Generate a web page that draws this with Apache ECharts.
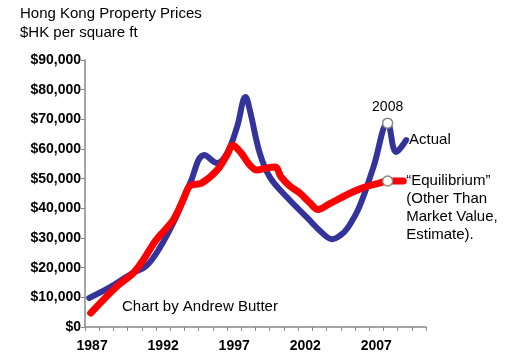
<!DOCTYPE html>
<html>
<head>
<meta charset="utf-8">
<script src="https://cdn.jsdelivr.net/npm/echarts@6/dist/echarts.min.js"></script>
<style>html,body{margin:0;padding:0;background:#fff}#c{width:528px;height:363px}</style>
</head>
<body>
<div id="c"></div>
<script>
// Tick labels / categories
var yearCategories = ['1987','1988','1989','1990','1991','1992','1993','1994','1995','1996','1997','1998','1999','2000','2001','2002','2003','2004','2005','2006','2007','2008','2009','2010'];

// Actual prices (year, $HK per sq ft)
var actualYears  = [1986.8, 1988.3, 1989.85, 1990.8, 1991.8, 1992.9, 1993.9, 1994.9, 1995.8, 1996.5, 1997.2, 1997.8, 1998.1, 1998.8, 1999.5, 2000.7, 2002.1, 2003.2, 2003.9, 2004.5, 2005.0, 2005.8, 2006.8, 2007.8, 2008.4, 2009.1];
var actualValues = [9800, 13500, 18200, 20500, 27000, 37000, 48500, 58000, 55300, 58600, 67400, 77500, 73100, 58600, 50600, 43800, 37000, 31700, 29600, 31000, 33500, 40400, 53900, 68700, 59000, 63000];

// "Equilibrium" estimate
var equilYears  = [1986.9, 1988.7, 1989.9, 1990.6, 1991.5, 1992.7, 1993.4, 1993.9, 1994.7, 1995.8, 1996.5, 1996.9, 1997.5, 1998.1, 1998.6, 1999.3, 1999.9, 2000.3, 2000.9, 2001.6, 2002.3, 2002.9, 2003.7, 2004.9, 2006.0, 2007.2, 2007.8, 2008.9];
var equilValues = [4700, 13500, 18200, 22600, 29300, 36000, 42800, 47600, 48500, 52900, 58000, 61300, 58600, 54600, 52900, 53600, 53900, 50600, 47600, 45200, 42000, 39600, 41500, 44500, 46800, 48500, 49200, 49200];

var markerYear = 2007.8;
var markerLabel = '2008';

var FONT = 'Liberation Sans';

function buildData(xs, ys, withLabel) {
  return xs.map(function (x, i) {
    if (x === markerYear) {
      var item = {
        value: [x, ys[i]],
        symbol: 'circle',
        symbolSize: 10,
        itemStyle: { color: '#fff', borderColor: '#888', borderWidth: 1.5 }
      };
      if (withLabel) {
        item.label = { show: true, position: 'top', distance: 3, formatter: markerLabel,
          fontFamily: FONT, fontSize: 14, color: '#000' };
      }
      return item;
    }
    return { value: [x, ys[i]], symbol: 'none' };
  });
}

var chart = echarts.init(document.getElementById('c'));
chart.setOption({
  animation: false,
  backgroundColor: '#fff',
  grid: { left: 85, right: 102, top: 60, bottom: 36 },
  graphic: [
    { type: 'text', left: 20, top: 6, style: { text: 'Hong Kong Property Prices', font: '15px ' + FONT, fill: '#000' } },
    { type: 'text', left: 20, top: 25, style: { text: '$HK per square ft', font: '15px ' + FONT, fill: '#000' } },
    { type: 'text', left: 122, top: 299, style: { text: 'Chart by Andrew Butter', font: '15px ' + FONT, fill: '#000' } }
  ],
  xAxis: [
    {
      type: 'category',
      data: yearCategories,
      boundaryGap: true,
      axisLine: { lineStyle: { color: '#888', width: 1.5 } },
      axisTick: { show: true, interval: 0, length: 4, lineStyle: { color: '#888' } },
      axisLabel: { interval: 4, margin: 12, fontFamily: FONT, fontWeight: 'bold', fontSize: 14, color: '#000' },
      splitLine: { show: false }
    },
    {
      type: 'value',
      min: 1986.5,
      max: 2010.5,
      show: false
    }
  ],
  yAxis: {
    type: 'value',
    min: 0,
    max: 90000,
    interval: 10000,
    axisLine: { show: true, lineStyle: { color: '#888', width: 1.5 } },
    axisTick: { show: true, length: 4, lineStyle: { color: '#888' } },
    splitLine: { show: false },
    axisLabel: {
      margin: 4,
      fontFamily: FONT, fontWeight: 'bold', fontSize: 14, color: '#000',
      formatter: function (v) { return '$' + v.toLocaleString('en-US'); }
    }
  },
  series: [
    {
      name: 'Actual',
      type: 'line',
      xAxisIndex: 1,
      smooth: 0.4,
      showSymbol: true,
      symbol: 'none',
      data: buildData(actualYears, actualValues, true),
      lineStyle: { color: '#333399', width: 6, cap: 'round', join: 'round' },
      itemStyle: { color: '#333399' },
      endLabel: { show: true, formatter: 'Actual', distance: 3, fontFamily: FONT, fontSize: 15, color: '#000' },
      z: 2
    },
    {
      name: 'Equilibrium',
      type: 'line',
      xAxisIndex: 1,
      smooth: 0.35,
      showSymbol: true,
      symbol: 'none',
      data: buildData(equilYears, equilValues, false),
      lineStyle: { color: '#ff0000', width: 7, cap: 'round', join: 'round' },
      itemStyle: { color: '#ff0000' },
      endLabel: { show: true, formatter: '\u201cEquilibrium\u201d\n(Other Than\nMarket Value,\nEstimate).',
        verticalAlign: 'top', offset: [0, -9], lineHeight: 18, distance: 3,
        fontFamily: FONT, fontSize: 15, color: '#000' },
      z: 3
    }
  ]
});
</script>
</body>
</html>
